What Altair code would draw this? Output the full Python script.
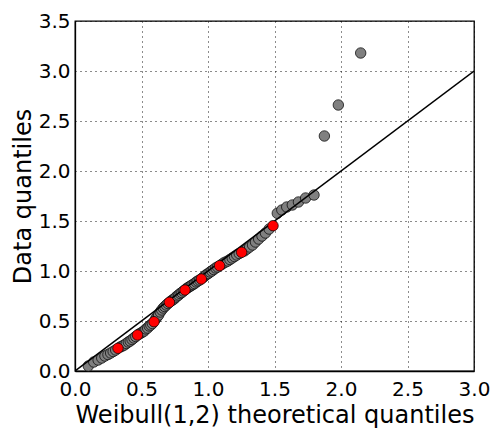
import altair as alt
import pandas as pd

# Theoretical Weibull(1,2) quantiles (x) and observed data quantiles (y)
theo_q = [
    0.100, 0.141, 0.174, 0.201, 0.225, 0.248, 0.268, 0.287, 0.306, 0.323,
    0.340, 0.356, 0.371, 0.386, 0.401, 0.415, 0.429, 0.443, 0.457, 0.470,
    0.483, 0.496, 0.508, 0.521, 0.533, 0.546, 0.558, 0.570, 0.582, 0.594,
    0.606, 0.617, 0.629, 0.641, 0.652, 0.664, 0.675, 0.687, 0.699, 0.710,
    0.722, 0.733, 0.745, 0.756, 0.768, 0.780, 0.791, 0.803, 0.815, 0.827,
    0.839, 0.851, 0.863, 0.875, 0.887, 0.899, 0.912, 0.924, 0.937, 0.950,
    0.962, 0.976, 0.989, 1.002, 1.016, 1.029, 1.043, 1.058, 1.072, 1.087,
    1.102, 1.117, 1.133, 1.149, 1.165, 1.182, 1.199, 1.216, 1.235, 1.253,
    1.273, 1.293, 1.313, 1.335, 1.357, 1.381, 1.406, 1.432, 1.460, 1.489,
    1.521, 1.555, 1.592, 1.634, 1.680, 1.734, 1.797, 1.875, 1.980, 2.148,
]
data_q = [
    0.050, 0.090, 0.110, 0.130, 0.150, 0.165, 0.180, 0.195, 0.210, 0.227,
    0.240, 0.250, 0.260, 0.275, 0.290, 0.300, 0.315, 0.330, 0.345, 0.360,
    0.370, 0.380, 0.390, 0.400, 0.420, 0.430, 0.450, 0.460, 0.475, 0.493,
    0.520, 0.540, 0.560, 0.590, 0.610, 0.630, 0.645, 0.660, 0.675, 0.687,
    0.700, 0.710, 0.720, 0.735, 0.750, 0.760, 0.775, 0.785, 0.800, 0.810,
    0.825, 0.835, 0.845, 0.855, 0.865, 0.875, 0.890, 0.900, 0.910, 0.920,
    0.935, 0.950, 0.965, 0.975, 0.990, 1.000, 1.015, 1.030, 1.040, 1.053,
    1.065, 1.080, 1.090, 1.100, 1.115, 1.130, 1.145, 1.160, 1.175, 1.187,
    1.200, 1.220, 1.240, 1.260, 1.290, 1.320, 1.350, 1.380, 1.420, 1.453,
    1.577, 1.610, 1.640, 1.660, 1.690, 1.730, 1.760, 2.350, 2.660, 3.180,
]
# the deciles (10th, 20th, ..., 90th point) are highlighted in red
highlight = [(i + 1) % 10 == 0 and (i + 1) < 100 for i in range(len(theo_q))]
ref_line_x = [0.0, 3.0]
x_ticks = [0.0, 0.5, 1.0, 1.5, 2.0, 2.5, 3.0]
y_ticks = [0.0, 0.5, 1.0, 1.5, 2.0, 2.5, 3.0, 3.5]

df = pd.DataFrame({"theo": theo_q, "data": data_q, "decile": highlight})
line_df = pd.DataFrame({"theo": ref_line_x, "data": ref_line_x})

FONT = "DejaVu Sans"

x_enc = alt.X(
    "theo:Q",
    scale=alt.Scale(domain=[0, 3], nice=False, zero=False),
    axis=alt.Axis(
        values=x_ticks, format=".1f", title="Weibull(1,2) theoretical quantiles",
        titleY=51, titleBaseline="alphabetic", labelPadding=8,
    ),
)
y_enc = alt.Y(
    "data:Q",
    scale=alt.Scale(domain=[0, 3.5], nice=False, zero=False),
    axis=alt.Axis(
        values=y_ticks, format=".1f", title="Data quantiles",
        titleX=-45, titleBaseline="alphabetic", labelPadding=5,
    ),
)

gray = alt.Chart(df).transform_filter("!datum.decile").mark_point(
    filled=True, shape="circle", size=110, color="#808080",
    stroke="#000000", strokeWidth=0.7, opacity=1,
).encode(x=x_enc, y=y_enc)

line = alt.Chart(line_df).mark_line(color="#000000", strokeWidth=1.5, clip=True).encode(
    x="theo:Q", y="data:Q"
)

red = alt.Chart(df).transform_filter("datum.decile").mark_point(
    filled=True, shape="circle", size=110, color="#ff0000",
    stroke="#000000", strokeWidth=0.7, opacity=1,
).encode(x="theo:Q", y="data:Q")

chart = alt.layer(gray, line, red).properties(
    width=399, height=350,
    autosize=alt.AutoSizeParams(type="none"),
    padding={"left": 67, "top": 13, "right": 17, "bottom": 58},
).configure_view(
    stroke="#000000", strokeWidth=1.3,
).configure_axis(
    labelFont=FONT, titleFont=FONT, labelFontSize=20, titleFontSize=24,
    labelColor="#000000", titleColor="#000000", titleFontWeight="normal",
    domainColor="#000000", domainWidth=1.3,
    tickSize=0, labelFlush=False, labelOverlap=False,
    grid=True, gridColor="#000000", gridDash=[1, 4], gridWidth=1, gridOpacity=0.9,
)

chart.save("out.html", embed_options={"renderer": "svg", "actions": False})
